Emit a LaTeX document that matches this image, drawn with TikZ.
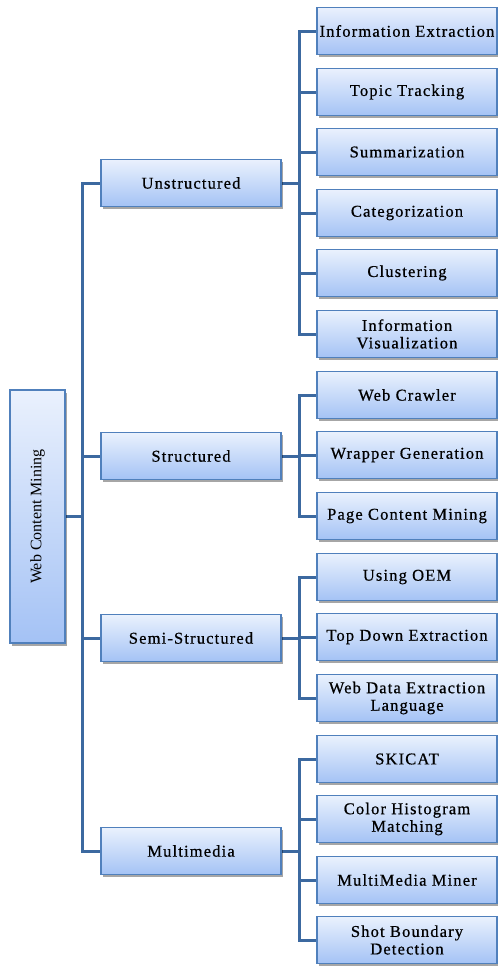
\documentclass[tikz,border=0pt]{standalone}
\usepackage{fontspec}
\setmainfont{Liberation Serif}
\newfontfamily\boxfont[LetterSpace=7,FakeBold=0.6]{Liberation Serif}
\usetikzlibrary{shadows,backgrounds}
\definecolor{linkblue}{RGB}{60,105,160}
\definecolor{boxedge}{RGB}{80,128,188}
\definecolor{boxtop}{RGB}{234,241,253}
\definecolor{boxbot}{RGB}{164,194,245}
\tikzset{
  leaf/.style={draw=boxedge, line width=1.5pt, top color=boxtop, bottom color=boxbot,
    minimum width=180pt, minimum height=47pt, align=center, inner sep=1pt,
    font=\boxfont\fontsize{16.5}{17.5}\selectfont,
    drop shadow={shadow xshift=2pt, shadow yshift=-2.5pt, fill=black, opacity=0.35}},
  link/.style={draw=linkblue, line width=3pt}
}
\begin{document}
\begin{tikzpicture}[x=1pt,y=-1pt]
\useasboundingbox (0,0) rectangle (498,967);
% root
\node[leaf, rotate=90, minimum width=253pt, minimum height=55pt,
  font=\fontsize{16}{18}\selectfont] (wcm) at (37.5,516.5) {Web Content Mining};
% second level
\node[leaf] (uns) at (191,183) {Unstructured};
\node[leaf] (str) at (191,456) {Structured};
\node[leaf] (sem) at (191,638) {Semi-Structured};
\node[leaf] (mm)  at (191,851) {Multimedia};
% leaves
\node[leaf] (ie)   at (407,31)  {Information Extraction};
\node[leaf] (tt)   at (407,92)  {Topic Tracking};
\node[leaf] (su)   at (407,152) {Summarization};
\node[leaf] (ca)   at (407,213) {Categorization};
\node[leaf] (cl)   at (407,273) {Clustering};
\node[leaf] (iv)   at (407,334) {Information\\Visualization};
\node[leaf] (wc)   at (407,395) {Web Crawler};
\node[leaf] (wg)   at (407,455) {Wrapper Generation};
\node[leaf] (pcm)  at (407,516) {Page Content Mining};
\node[leaf] (oem)  at (407,577) {Using OEM};
\node[leaf] (tde)  at (407,637) {Top Down Extraction};
\node[leaf] (wdel) at (407,698) {Web Data Extraction\\Language};
\node[leaf] (sk)   at (407,759) {SKICAT};
\node[leaf] (chm)  at (407,819) {Color Histogram\\Matching};
\node[leaf] (mmm)  at (407,880) {MultiMedia Miner};
\node[leaf] (sbd)  at (407,940) {Shot Boundary\\Detection};
% connectors
\begin{scope}[on background layer]
\draw[link] (wcm.south) -- ++(18,0);
\draw[link] (uns.west) -- ++(-18,0) |- (mm.west);
\foreach \n in {str,sem}
  \draw[link] (\n.west) -- ++(-18,0);
\foreach \p in {uns,str,sem,mm}
  \draw[link] (\p.east) -- ++(19,0);
\foreach \first/\last in {ie/iv, wc/pcm, oem/wdel, sk/sbd}
  \draw[link] (\first.west) -- ++(-17,0) |- (\last.west);
\foreach \n in {tt,su,ca,cl,wg,tde,chm,mmm}
  \draw[link] (\n.west) -- ++(-17,0);
\end{scope}
\end{tikzpicture}
\end{document}
